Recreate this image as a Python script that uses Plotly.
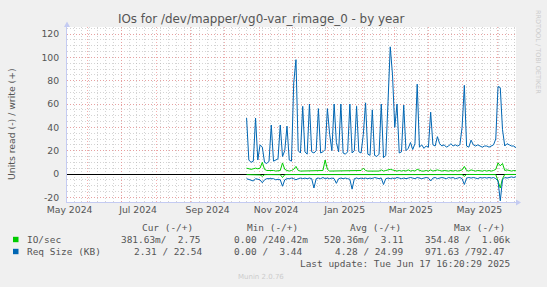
import plotly.graph_objects as go
import pandas as pd

# ---------------- data (2-day samples, from 2024-10-20) ----------------
series_start = "2024-10-20 16:00"
req_write = [48, 12, 10, 11, 48, 12, 25, 23, 10, 9,
             11, 42, 11, 12, 13, 42, 15, 20, 41, 12,
             11, 78, 98, 20, 18, 58, 19, 17, 60, 19,
             18, 20, 56, 18, 19, 21, 56, 34, 20, 60,
             27, 19, 60, 18, 17, 19, 60, 18, 20, 58,
             19, 18, 34, 61, 17, 16, 55, 16, 15, 17,
             60, 14, 16, 62, 109, 85, 40, 60, 18, 19,
             59, 20, 22, 27, 21, 26, 77, 23, 25, 22,
             24, 23, 53, 25, 24, 32, 26, 24, 25, 23,
             24, 26, 24, 25, 24, 25, 40, 76, 24, 23,
             29, 25, 24, 25, 24, 23, 24, 24, 23, 24,
             25, 30, 75, 74, 38, 24, 26, 25, 24, 24,
             22.54]
req_read = [4, 4.5, 5, 6, 4, 4.5, 5, 7.5, 5, 4,
            4, 4.5, 4, 5, 4.5, 5, 10.5, 5, 4, 4,
            3.5, 4, 5, 4, 3.5, 4, 3.5, 4, 3.5, 4,
            12, 4, 3.5, 4, 3, 4, 3.5, 4, 3.5, 4,
            8, 4, 3.5, 4, 3.5, 4, 4.5, 13, 4, 3.5,
            4, 3.5, 4, 3.5, 4, 3.5, 4, 3, 3.5, 4,
            3.5, 9, 4, 3.5, 4, 3.5, 4, 3, 3.5, 4,
            3.5, 4, 3.5, 3, 3.5, 4, 3, 3.5, 4, 3.5,
            3, 3.5, 6, 3.5, 3, 4, 3.5, 3, 3.5, 4,
            3, 3.5, 3, 4, 3.5, 3, 4, 9, 3.5, 3,
            3.5, 3, 3.5, 4, 3, 3.5, 3, 3.5, 3, 3.5,
            3, 4, 6, 23, 5, 3, 3.5, 3, 2.5, 3,
            2.31]
io_write = [5, 4.5, 4, 4.5, 5, 4.5, 5, 10, 4, 3,
            3, 3.5, 3, 2.5, 3, 3, 9.5, 4, 3, 2.5,
            3, 4, 6.5, 3, 2.5, 2.5, 3, 2.5, 3, 2.5,
            2.5, 2.5, 3, 2.5, 3, 12, 4, 2.5, 2.5, 3,
            2.5, 2.5, 3, 2.5, 2.5, 2.5, 3, 2.5, 2.5, 3,
            2.5, 3, 5, 3, 2.5, 2.5, 3, 2.5, 2.5, 2.5,
            3.5, 2.5, 3, 3.5, 4, 3.5, 3, 2.5, 3, 2.5,
            3, 2.5, 3.5, 2.5, 3, 2.5, 4, 3, 2.5, 2.5,
            3, 2.5, 3.5, 2.5, 3, 3.5, 3, 2.5, 3, 2.5,
            2.5, 3, 2.5, 3, 2.5, 3, 3.5, 6.5, 3, 2.5,
            3.5, 3, 2.5, 3, 2.5, 2.5, 3, 2.5, 3, 2.5,
            3, 4, 9.5, 7, 9, 3, 3.5, 3, 2.5, 3,
            2.75]
io_read = [0.5, 0.5, 0.6, 0.8, 0.5, 0.6, 0.8, 2, 0.6, 0.5,
           0.5, 0.5, 0.5, 0.6, 0.5, 0.6, 3, 0.6, 0.5, 0.5,
           0.5, 0.5, 0.8, 0.5, 0.4, 0.5, 0.4, 0.5, 0.4, 0.5,
           0.8, 0.5, 0.4, 0.5, 0.4, 0.5, 0.4, 0.5, 0.4, 0.5,
           0.6, 0.5, 0.4, 0.5, 0.4, 0.5, 0.5, 0.8, 0.5, 0.4,
           0.5, 0.4, 0.5, 0.4, 0.5, 0.4, 0.5, 0.4, 0.4, 0.5,
           0.4, 0.8, 0.5, 0.4, 0.5, 0.4, 0.5, 0.4, 0.4, 0.5,
           0.4, 0.5, 0.4, 0.4, 0.4, 0.5, 0.4, 0.4, 0.5, 0.4,
           0.4, 0.4, 0.6, 0.4, 0.4, 0.5, 0.4, 0.4, 0.4, 0.5,
           0.4, 0.4, 0.4, 0.5, 0.4, 0.4, 0.5, 2, 0.4, 0.4,
           0.4, 0.4, 0.4, 0.5, 0.4, 0.4, 0.4, 0.4, 0.4, 0.4,
           0.4, 0.5, 6, 12, 4, 0.4, 0.4, 0.4, 0.4, 0.4,
           0.38]

x_range = ["2024-05-13 16:20:29", "2025-06-17 16:20:29"]
x_label_dates = ["2024-05-16", "2024-07-16", "2024-09-16", "2024-11-16",
                 "2025-01-16", "2025-03-16", "2025-05-16"]
x_labels = ["May 2024", "Jul 2024", "Sep 2024", "Nov 2024",
            "Jan 2025", "Mar 2025", "May 2025"]
month_grid = ["2024-06-01", "2024-07-01", "2024-08-01", "2024-09-01",
              "2024-10-01", "2024-11-01", "2024-12-01", "2025-01-01",
              "2025-02-01", "2025-03-01", "2025-04-01", "2025-05-01",
              "2025-06-01"]
y_ticks = [-20, 0, 20, 40, 60, 80, 100, 120]
y_labels = ["-20", "0", "20", "40", "60", "80", "100", "120"]
y_range = [-24, 126]

title = "IOs for /dev/mapper/vg0-var_rimage_0 - by year"
legend_header = ["Cur (-/+)", "Min (-/+)", "Avg (-/+)", "Max (-/+)"]
legend_rows = [
    ("IO/sec", "#00cc00", ["381.63m/  2.75", "0.00 /240.42m", "520.36m/  3.11", "354.48 /  1.06k"]),
    ("Req Size (KB)", "#0066b3", ["2.31 / 22.54", "0.00 /  3.44", "4.28 / 24.99", "971.63 /792.47"]),
]
last_update = "Last update: Tue Jun 17 16:20:29 2025"

# ---------------- layout geometry ----------------
W, H = 547, 287
L, R, T, B = 67, 31, 27, 85
PW, PH = W - L - R, H - T - B


def px(x):
    return (x - L) / PW


def py(y):
    return 1 - (y - T) / PH


def nb(s):
    return s.replace(" ", "\u00a0")


dates = pd.date_range(series_start, periods=len(req_write), freq="2D")

GREEN = "#00cc00"
BLUE = "#0066b3"
TXT = "#555555"
AXIS = "#c4cbf2"
MAJOR = "rgba(240,140,140,0.7)"
MINOR = "rgba(170,170,170,0.5)"
DASH = "1px,2px"

fig = go.Figure()
fig.add_trace(go.Scatter(x=dates, y=io_write, mode="lines",
                         line=dict(color=GREEN, width=1), showlegend=False))
fig.add_trace(go.Scatter(x=dates, y=[-v for v in io_read], mode="lines",
                         line=dict(color=GREEN, width=1), showlegend=False))
fig.add_trace(go.Scatter(x=dates, y=req_write, mode="lines",
                         line=dict(color=BLUE, width=1), showlegend=False))
fig.add_trace(go.Scatter(x=dates, y=[-v for v in req_read], mode="lines",
                         line=dict(color=BLUE, width=1), showlegend=False))
# carrier for the label axis
fig.add_trace(go.Scatter(x=[x_range[0]], y=[None], xaxis="x2", mode="lines",
                         showlegend=False, hoverinfo="skip"))

tickfont = dict(family="DejaVu Sans", size=9.3, color=TXT)

fig.update_layout(
    width=W, height=H,
    margin=dict(l=L, r=R, t=T, b=B, pad=0),
    paper_bgcolor="#f0f0f0",
    plot_bgcolor="#ffffff",
    showlegend=False,
    xaxis=dict(
        type="date", range=x_range,
        tickvals=month_grid, ticktext=[""] * len(month_grid),
        showgrid=True, gridcolor=MAJOR, griddash=DASH, gridwidth=1,
        minor=dict(dtick=7 * 86400000, tick0="2024-05-13", showgrid=True,
                   gridcolor=MINOR, griddash=DASH, gridwidth=1),
        showline=True, linecolor=AXIS, linewidth=1,
        ticks="", zeroline=False,
    ),
    xaxis2=dict(
        type="date", range=x_range, overlaying="x", side="bottom", anchor="y",
        tickvals=x_label_dates, ticktext=x_labels,
        showgrid=False, showline=False, ticks="", zeroline=False,
        tickfont=tickfont, ticklabelstandoff=1,
    ),
    yaxis=dict(
        range=y_range, tickvals=y_ticks, ticktext=y_labels,
        showgrid=True, gridcolor=MAJOR, griddash=DASH, gridwidth=1,
        minor=dict(dtick=5, tick0=0, showgrid=True,
                   gridcolor=MINOR, griddash=DASH, gridwidth=1),
        showline=True, linecolor=AXIS, linewidth=1,
        zeroline=True, zerolinecolor="#000000", zerolinewidth=1.3,
        ticks="", tickfont=tickfont, ticklabelstandoff=5,
    ),
)

ann = []
ann.append(dict(text=title, x=px(261), y=py(19), xref="paper", yref="paper",
                xanchor="center", yanchor="middle", showarrow=False,
                font=dict(family="DejaVu Sans", size=11.9, color=TXT)))
ann.append(dict(text="Units read (-) / write (+)", x=px(11), y=py(124),
                xref="paper", yref="paper", xanchor="center", yanchor="middle",
                textangle=-90, showarrow=False,
                font=dict(family="DejaVu Sans", size=9.3, color=TXT)))
ann.append(dict(text="RRDTOOL / TOBI OETIKER", x=px(538), y=py(52),
                xref="paper", yref="paper", xanchor="center", yanchor="middle",
                textangle=90, showarrow=False,
                font=dict(family="DejaVu Sans", size=6.5, color="#cccccc")))
ann.append(dict(text="Munin 2.0.76", x=px(261), y=py(276.5),
                xref="paper", yref="paper", xanchor="center", yanchor="middle",
                showarrow=False,
                font=dict(family="DejaVu Sans", size=7, color="#cccccc")))

mono = dict(family="DejaVu Sans Mono", size=9.45, color=TXT)
header_x = [140, 245, 348, 452]
for hx, h in zip(header_x, legend_header):
    ann.append(dict(text=nb(h), x=px(hx), y=py(227), xref="paper", yref="paper",
                    xanchor="left", yanchor="middle", showarrow=False, font=mono))
row_y = [239.5, 251.5]
cell_x = [[119, 232, 322, 423], [132, 232, 333, 423]]
shapes = []
for (label, color, cells), ry, cx in zip(legend_rows, row_y, cell_x):
    ann.append(dict(text=nb(label), x=px(25), y=py(ry), xref="paper", yref="paper",
                    xanchor="left", yanchor="middle", showarrow=False, font=mono))
    for x0, c in zip(cx, cells):
        ann.append(dict(text=nb(c), x=px(x0), y=py(ry), xref="paper", yref="paper",
                        xanchor="left", yanchor="middle", showarrow=False, font=mono))
    shapes.append(dict(type="rect", xref="paper", yref="paper",
                       x0=px(13), x1=px(18.5), y0=py(ry + 2.7), y1=py(ry - 2.7),
                       fillcolor=color, line=dict(width=0)))
ann.append(dict(text=nb(last_update), x=px(298), y=py(263.5), xref="paper", yref="paper",
                xanchor="left", yanchor="middle", showarrow=False, font=mono))

# axis arrows
shapes.append(dict(type="path", xref="paper", yref="paper",
                   path=f"M {px(516)} {py(199.5)} L {px(521)} {py(202.5)} L {px(516)} {py(205.5)} Z",
                   fillcolor=AXIS, line=dict(width=0)))
shapes.append(dict(type="path", xref="paper", yref="paper",
                   path=f"M {px(64)} {py(27)} L {px(67)} {py(21.5)} L {px(70)} {py(27)} Z",
                   fillcolor=AXIS, line=dict(width=0)))

fig.update_layout(annotations=ann, shapes=shapes)
fig.write_html("out.html")
